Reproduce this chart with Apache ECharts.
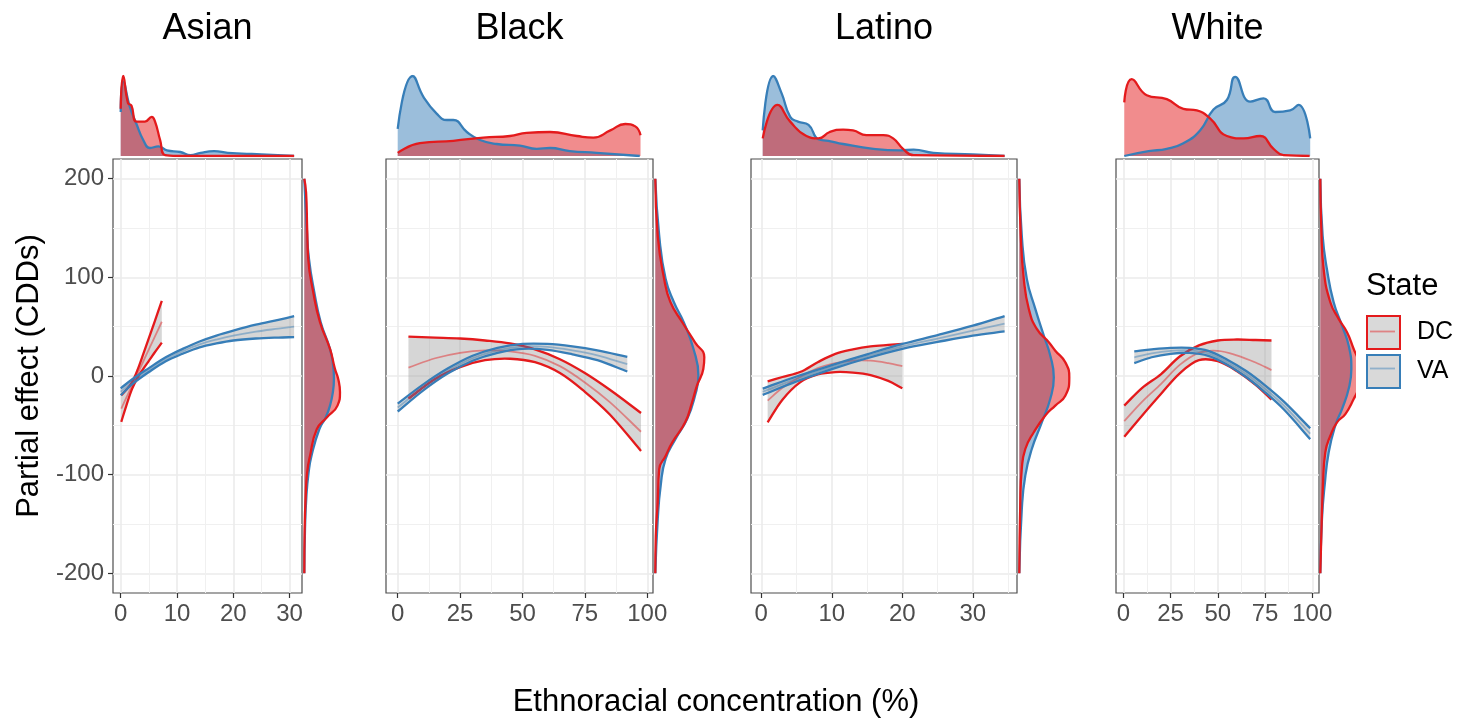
<!DOCTYPE html>
<html>
<head>
<meta charset="utf-8">
<title>Partial effect by ethnoracial concentration</title>
<script src="https://cdn.jsdelivr.net/npm/echarts@6.0.0/dist/echarts.min.js"></script>
<style>
  html, body { margin: 0; padding: 0; background: #fff; }
  #main { width: 1461px; height: 722px; }
</style>
</head>
<body>
<div id="main"></div>
<script>
// ---- data ----
var panelNames = ['Asian', 'Black', 'Latino', 'White']
var xTicks = [[0, 10, 20, 30], [0, 25, 50, 75, 100], [0, 10, 20, 30], [0, 25, 50, 75, 100]]
var xMinorTicks = [[5, 15, 25], [12.5, 37.5, 62.5, 87.5], [5, 15, 25, 35], [12.5, 37.5, 62.5, 87.5]]
var yTicks = [-200, -100, 0, 100, 200]
var yMinorTicks = [-150, -50, 50, 150]

// fitted partial effects (fit, lower and upper band)
var asianDcX = [0.1, 1, 2, 3, 4, 5, 6, 7.3]
var asianDcFit = [-33, -22, -9.8, 2.4, 14.7, 26.9, 39.1, 55]
var asianDcLo = [-46.5, -30, -13.3, -1.6, 7.2, 15.4, 23.6, 33.8]
var asianDcHi = [-19.5, -14, -6.3, 6.4, 22.2, 38.4, 54.6, 76.2]
var asianVaX = [0, 2, 5, 8, 11, 14, 17, 20, 24, 28, 30.8]
var asianVaFit = [-16, -6, 6, 17, 25, 32, 37, 41, 45, 48, 50]
var asianVaLo = [-19.5, -8.5, 4, 15, 22.5, 29, 33, 36, 38, 39, 39.4]
var asianVaHi = [-12.5, -3.5, 8, 19, 27.5, 35, 41, 46, 52, 57, 60.6]

var blackDcX = [4.3, 15, 25, 35, 45, 55, 65, 75, 85, 97.5]
var blackDcFit = [8.5, 18, 23.5, 26, 25, 20.5, 10, -6.5, -26.5, -56.5]
var blackDcLo = [-23, -3, 9, 16, 17.5, 14, 3, -16, -39, -76]
var blackDcHi = [40, 39, 38, 36, 33, 27, 17, 3, -14, -37.5]
var blackVaX = [0, 10, 20, 30, 40, 50, 60, 70, 80, 92]
var blackVaFit = [-32, -12, 5, 18, 26, 30, 29.5, 26, 21, 12]
var blackVaLo = [-36, -15, 2.5, 15.5, 23.5, 27.5, 26.5, 22, 16, 4.6]
var blackVaHi = [-28, -9, 7.5, 20.5, 28.5, 32.5, 32.5, 30, 26, 19.4]

var latinoDcX = [0.9, 3, 5.5, 8, 10.5, 13, 15.5, 18, 20]
var latinoDcFit = [-25, -12, -1, 8, 13, 15.5, 15.5, 13, 10]
var latinoDcLo = [-47, -24, -6.4, 1.5, 4, 3.5, 1, -5, -12.5]
var latinoDcHi = [-5.4, -1, 4, 14, 22.5, 27, 30, 31.5, 32.5]
var latinoVaX = [0.2, 5, 10, 15, 20, 25, 30, 34.5]
var latinoVaFit = [-16, -3, 9, 20, 30, 38, 46, 53]
var latinoVaLo = [-19.2, -5.5, 7, 18, 27.5, 34.5, 41, 45.2]
var latinoVaHi = [-12.8, -0.5, 11, 22, 32.5, 41.5, 51, 60.8]

var whiteDcX = [0.5, 10, 20, 30, 40, 50, 60, 70, 78.4]
var whiteDcFit = [-45.8, -26, -8, 11.5, 23.5, 25.5, 21, 13.7, 6]
var whiteDcLo = [-61.6, -40, -18, 3, 16, 15, 5, -9, -24]
var whiteDcHi = [-30, -12, 2, 20, 31, 36, 37, 36.5, 36]
var whiteVaX = [5.8, 15, 25, 35, 45, 55, 65, 75, 85, 98.9]
var whiteVaFit = [19, 23, 25.5, 26, 23, 14, 2, -13, -30, -58.5]
var whiteVaLo = [13, 19, 22.5, 23.5, 20.5, 11.5, -1, -16.5, -34, -64]
var whiteVaHi = [25, 27, 28.5, 28.5, 25.5, 16.5, 5, -9.5, -26, -53]

// top marginal densities of concentration (relative height)
var asianTopDcX = [0, 0.45, 1.3, 1.9, 2.8, 4.3, 5.5, 6.1, 7.0, 7.9, 10, 20, 30.8]
var asianTopDcH = [0.59, 1.0, 0.66, 0.63, 0.43, 0.43, 0.49, 0.43, 0.2, 0.01, 0, 0, 0]
var asianTopVaX = [0, 0.45, 1.6, 2.8, 4.0, 5.2, 6.7, 8.2, 10.6, 12.4, 14.2, 16.6, 19, 21.5, 25, 30.8]
var asianTopVaH = [0.55, 0.93, 0.62, 0.4, 0.2, 0.1, 0.12, 0.07, 0.05, 0.01, 0.04, 0.06, 0.04, 0.03, 0.02, 0]
var blackTopDcX = [0, 8.9, 22.3, 34.3, 45, 51.7, 61, 71.8, 78.4, 85.2, 91.2, 95.2, 97.3]
var blackTopDcH = [0.04, 0.16, 0.19, 0.23, 0.25, 0.29, 0.3, 0.25, 0.23, 0.32, 0.4, 0.37, 0.26]
var blackTopVaX = [0, 6, 10.3, 15.6, 19.7, 22.3, 27.7, 33, 39.7, 49, 55.7, 61, 69, 79.7, 97]
var blackTopVaH = [0.34, 1.0, 0.74, 0.53, 0.45, 0.45, 0.3, 0.2, 0.15, 0.13, 0.09, 0.1, 0.06, 0.04, 0]
var latinoTopDcX = [0.2, 2.3, 4.1, 6.4, 8.1, 9.7, 11.6, 13, 14.9, 17.3, 18.7, 20.1, 21.6, 34.5]
var latinoTopDcH = [0.22, 0.64, 0.43, 0.25, 0.22, 0.3, 0.33, 0.32, 0.26, 0.26, 0.22, 0.09, 0.01, 0]
var latinoTopVaX = [0.2, 1.7, 2.9, 4.1, 5.2, 6.7, 8.1, 9.5, 11.6, 15.9, 19.7, 21.6, 24.4, 30, 34.5]
var latinoTopVaH = [0.32, 1.0, 0.78, 0.49, 0.43, 0.39, 0.21, 0.19, 0.15, 0.09, 0.07, 0.08, 0.04, 0.02, 0]
var whiteTopDcX = [0.5, 4.4, 12.4, 23, 31.8, 38.9, 45.9, 54.8, 63.6, 72.4, 79.5, 84.8, 98.6]
var whiteTopDcH = [0.67, 0.96, 0.76, 0.71, 0.59, 0.57, 0.47, 0.25, 0.22, 0.25, 0.09, 0.01, 0]
var whiteTopVaX = [0.5, 13.4, 23, 31.8, 40.6, 47.7, 54.8, 59.2, 67.1, 74.2, 80.4, 88.3, 92.7, 98.9]
var whiteTopVaH = [0, 0.06, 0.09, 0.16, 0.32, 0.58, 0.7, 0.99, 0.68, 0.72, 0.55, 0.57, 0.64, 0.22]

// right marginal densities of the partial effect (relative width)
var asianSideDcV = [200, 186, 150, 119, 85, 54.5, 27.4, 7, -3, -16.6, -30, -42, -54, -81, -98, -121, -155, -200]
var asianSideDcW = [0, 0.05, 0.08, 0.11, 0.25, 0.44, 0.72, 0.86, 0.95, 1.0, 0.93, 0.63, 0.35, 0.16, 0.08, 0.04, 0.01, 0]
var asianSideVaV = [200, 150, 119, 85, 54.5, 27.4, 7, -3, -16.6, -30, -42, -54, -81, -98, -121, -155, -200]
var asianSideVaW = [0, 0.07, 0.13, 0.28, 0.46, 0.72, 0.82, 0.83, 0.8, 0.72, 0.6, 0.42, 0.2, 0.12, 0.06, 0.02, 0]
var blackSideDcV = [200, 142, 98.5, 74.8, 54.5, 34.2, 19, 7.1, -9.8, -26.7, -47, -67, -81, -94.4, -128, -162, -200]
var blackSideDcW = [0, 0.05, 0.18, 0.31, 0.55, 0.81, 1.0, 0.98, 0.85, 0.75, 0.61, 0.35, 0.21, 0.08, 0.05, 0.01, 0]
var blackSideVaV = [200, 142, 98.5, 74.8, 54.5, 27.4, 0.3, -20, -43.7, -64, -84, -111, -145, -200]
var blackSideVaW = [0, 0.08, 0.21, 0.38, 0.58, 0.78, 0.88, 0.81, 0.65, 0.41, 0.21, 0.11, 0.05, 0]
var latinoSideDcV = [200, 142, 98.5, 68, 47.7, 34.2, 25.7, 13.9, -1.4, -20, -30, -40, -57, -74, -94, -128, -200]
var latinoSideDcW = [0, 0.03, 0.09, 0.19, 0.35, 0.59, 0.72, 0.92, 1.0, 0.92, 0.72, 0.52, 0.29, 0.12, 0.05, 0.02, 0]
var latinoSideVaV = [200, 142, 98.5, 68, 41, 20.6, -1.4, -23, -47, -74, -101, -135, -200]
var latinoSideVaW = [0, 0.05, 0.15, 0.32, 0.49, 0.62, 0.69, 0.62, 0.45, 0.25, 0.12, 0.05, 0]
var whiteSideDcV = [200, 150, 108.6, 74.8, 57.9, 44.4, 27.4, 15, 2, -12, -23.4, -38.6, -47, -60.6, -77.5, -111, -162, -200]
var whiteSideDcW = [0, 0.03, 0.1, 0.3, 0.55, 0.8, 1.0, 1.15, 1.22, 1.15, 1.0, 0.75, 0.5, 0.3, 0.15, 0.08, 0.03, 0]
var whiteSideVaV = [200, 142, 108, 74.8, 51, 30.8, 7, -13, -33.5, -50, -77.5, -111, -145, -200]
var whiteSideVaW = [0, 0.07, 0.2, 0.4, 0.65, 0.85, 0.93, 0.85, 0.65, 0.45, 0.25, 0.13, 0.05, 0]

var panels = [
  { dc: [asianDcX, asianDcFit, asianDcLo, asianDcHi], va: [asianVaX, asianVaFit, asianVaLo, asianVaHi],
    topDc: [asianTopDcX, asianTopDcH], topVa: [asianTopVaX, asianTopVaH],
    sideDc: [asianSideDcW, asianSideDcV], sideVa: [asianSideVaW, asianSideVaV] },
  { dc: [blackDcX, blackDcFit, blackDcLo, blackDcHi], va: [blackVaX, blackVaFit, blackVaLo, blackVaHi],
    topDc: [blackTopDcX, blackTopDcH], topVa: [blackTopVaX, blackTopVaH],
    sideDc: [blackSideDcW, blackSideDcV], sideVa: [blackSideVaW, blackSideVaV] },
  { dc: [latinoDcX, latinoDcFit, latinoDcLo, latinoDcHi], va: [latinoVaX, latinoVaFit, latinoVaLo, latinoVaHi],
    topDc: [latinoTopDcX, latinoTopDcH], topVa: [latinoTopVaX, latinoTopVaH],
    sideDc: [latinoSideDcW, latinoSideDcV], sideVa: [latinoSideVaW, latinoSideVaV] },
  { dc: [whiteDcX, whiteDcFit, whiteDcLo, whiteDcHi], va: [whiteVaX, whiteVaFit, whiteVaLo, whiteVaHi],
    topDc: [whiteTopDcX, whiteTopDcH], topVa: [whiteTopVaX, whiteTopVaH],
    sideDc: [whiteSideDcW, whiteSideDcV], sideVa: [whiteSideVaW, whiteSideVaV] }
]

// ---- layout ----
var FONT = 'Liberation Sans, Arial, sans-serif'
var RED = '#e41a1c'
var BLUE = '#377eb8'
var SMOOTH = 0.35
var xMin = [-1.37, -4.69, -1.46, -3.87]
var xMax = [32.2, 102.3, 36.26, 103.55]
var mainLeft = [113, 386, 751, 1116]
var mainWidth = [189, 267, 266, 203]
var mainTop = 159
var mainHeight = 434
var topTop = 76
var topHeight = 80
var sideLeft = [304.3, 655.3, 1019.3, 1320.3]
var sideWidth = [35.7, 49, 50, 33.4]

function pairs(xs, ys) {
  return xs.map(function (x, i) { return [x, ys[i]] })
}

// repeat the end points so the smoothed polygon and the polylines share the same curve
function dupEnds(pts) {
  return [pts[0]].concat(pts, [pts[pts.length - 1]])
}

var grids = []
var xAxes = []
var yAxes = []
var series = []
var titles = []

// confidence ribbon, drawn once from all points of the series
function band(name, xi, yi, d) {
  var data = d[0].map(function (x, j) { return [x, d[2][j], d[3][j]] })
  return {
    name: name, type: 'custom', xAxisIndex: xi, yAxisIndex: yi, data: data, silent: true, z: 2,
    encode: { x: 0, y: [1, 2] },
    renderItem: function (params, api) {
      if (params.dataIndexInside !== 0) return null
      var up = []
      var low = []
      for (var j = 0; j < params.dataInsideLength; j++) {
        up.push(api.coord([api.value(0, j), api.value(2, j)]))
        low.push(api.coord([api.value(0, j), api.value(1, j)]))
      }
      low.reverse()
      return {
        type: 'polygon',
        shape: { points: dupEnds(up).concat(dupEnds(low)), smooth: SMOOTH },
        style: { fill: 'rgba(153,153,153,0.4)', stroke: 'none' }
      }
    }
  }
}

function curve(name, xi, yi, xs, ys, color, width) {
  return {
    name: name, type: 'custom', xAxisIndex: xi, yAxisIndex: yi, data: pairs(xs, ys), silent: true, z: 3,
    encode: { x: 0, y: 1 },
    renderItem: function (params, api) {
      if (params.dataIndexInside !== 0) return null
      var pts = []
      for (var j = 0; j < params.dataInsideLength; j++) {
        pts.push(api.coord([api.value(0, j), api.value(1, j)]))
      }
      return {
        type: 'polyline',
        shape: { points: dupEnds(pts), smooth: SMOOTH },
        style: { stroke: color, lineWidth: width, fill: 'none' }
      }
    }
  }
}

function density(name, xi, yi, data, color) {
  return { name: name, type: 'line', xAxisIndex: xi, yAxisIndex: yi, data: data,
    symbol: 'none', smooth: true, silent: true,
    lineStyle: { color: color, width: 2.3 }, areaStyle: { color: color, opacity: 0.5 }, z: 2 }
}

panels.forEach(function (p, i) {
  // main panel
  var g = grids.length
  grids.push({ left: mainLeft[i], top: mainTop, width: mainWidth[i], height: mainHeight,
    show: true, borderColor: '#4d4d4d', borderWidth: 1.2, backgroundColor: '#fff' })
  var xi = xAxes.length
  xAxes.push({
    gridIndex: g, type: 'value', min: xMin[i], max: xMax[i],
    axisLine: { show: false, onZero: false },
    axisTick: { show: true, length: 5, customValues: xTicks[i], lineStyle: { color: '#333', width: 1.2 } },
    axisLabel: { customValues: xTicks[i], fontSize: 24, color: '#4d4d4d', margin: 9, fontFamily: FONT },
    splitLine: { show: true, lineStyle: { color: '#ebebeb', width: 1.6 } }
  })
  xAxes.push({
    gridIndex: g, type: 'value', min: xMin[i], max: xMax[i], position: 'bottom',
    axisLine: { show: false, onZero: false }, axisLabel: { show: false },
    axisTick: { show: false, customValues: xMinorTicks[i] },
    splitLine: { show: true, lineStyle: { color: '#f0f0f0', width: 1 } }
  })
  var yi = yAxes.length
  yAxes.push({
    gridIndex: g, type: 'value', min: -220, max: 220,
    axisLine: { show: false, onZero: false },
    axisTick: { show: i === 0, length: 5, customValues: yTicks, lineStyle: { color: '#333', width: 1.2 } },
    axisLabel: { show: i === 0, customValues: yTicks, fontSize: 24, color: '#4d4d4d', margin: 9, fontFamily: FONT },
    splitLine: { show: true, lineStyle: { color: '#ebebeb', width: 1.6 } },
    name: i === 0 ? 'Partial effect (CDDs)' : '',
    nameLocation: 'middle', nameGap: 68, nameRotate: 90,
    nameTextStyle: { fontSize: 31, color: '#000', fontFamily: FONT }
  })
  yAxes.push({
    gridIndex: g, type: 'value', min: -220, max: 220,
    axisLine: { show: false, onZero: false }, axisLabel: { show: false },
    axisTick: { show: false, customValues: yMinorTicks },
    splitLine: { show: true, lineStyle: { color: '#f0f0f0', width: 1 } }
  })

  series.push(band('DC', xi, yi, p.dc))
  series.push(band('VA', xi, yi, p.va))
  series.push(curve('DC lower', xi, yi, p.dc[0], p.dc[2], RED, 2.3))
  series.push(curve('DC upper', xi, yi, p.dc[0], p.dc[3], RED, 2.3))
  series.push(curve('DC fit', xi, yi, p.dc[0], p.dc[1], 'rgba(228,26,28,0.45)', 1.8))
  series.push(curve('VA lower', xi, yi, p.va[0], p.va[2], BLUE, 2.3))
  series.push(curve('VA upper', xi, yi, p.va[0], p.va[3], BLUE, 2.3))
  series.push(curve('VA fit', xi, yi, p.va[0], p.va[1], 'rgba(55,126,184,0.45)', 1.8))

  // top marginal density
  var gt = grids.length
  grids.push({ left: mainLeft[i], top: topTop, width: mainWidth[i], height: topHeight })
  var xt = xAxes.length
  xAxes.push({ gridIndex: gt, type: 'value', min: xMin[i], max: xMax[i], show: false })
  var yt = yAxes.length
  yAxes.push({ gridIndex: gt, type: 'value', min: 0, max: 1, show: false })
  series.push(density('VA top', xt, yt, pairs(p.topVa[0], p.topVa[1]), BLUE))
  series.push(density('DC top', xt, yt, pairs(p.topDc[0], p.topDc[1]), RED))

  // right marginal density (time axis on y so the area fills sideways)
  var gs = grids.length
  grids.push({ left: sideLeft[i], top: mainTop, width: sideWidth[i], height: mainHeight })
  var xs = xAxes.length
  xAxes.push({ gridIndex: gs, type: 'value', min: 0, max: 1, show: false })
  var ys = yAxes.length
  yAxes.push({ gridIndex: gs, type: 'time', min: -220, max: 220, show: false })
  series.push(density('VA side', xs, ys, pairs(p.sideVa[0], p.sideVa[1]), BLUE))
  series.push(density('DC side', xs, ys, pairs(p.sideDc[0], p.sideDc[1]), RED))

  titles.push({ text: panelNames[i], left: mainLeft[i] + mainWidth[i] / 2, top: 29, padding: 0,
    textAlign: 'center', textVerticalAlign: 'middle',
    textStyle: { fontSize: 36, fontWeight: 'normal', color: '#000', fontFamily: FONT } })
})

titles.push({ text: 'Ethnoracial concentration (%)', left: 716, top: 702, padding: 0,
  textAlign: 'center', textVerticalAlign: 'middle',
  textStyle: { fontSize: 31, fontWeight: 'normal', color: '#000', fontFamily: FONT } })
titles.push({ text: 'State', left: 1366, top: 286, padding: 0,
  textAlign: 'left', textVerticalAlign: 'middle',
  textStyle: { fontSize: 31, fontWeight: 'normal', color: '#000', fontFamily: FONT } })

var mychart = echarts.init(document.getElementById('main'))
var option = {
  animation: false,
  backgroundColor: '#fff',
  title: titles,
  grid: grids,
  xAxis: xAxes,
  yAxis: yAxes,
  legend: {
    orient: 'vertical', left: 1366, top: 315, padding: 0,
    itemWidth: 33, itemHeight: 33, itemGap: 4, selectedMode: false,
    textStyle: { fontSize: 25, color: '#000', fontFamily: FONT, padding: [0, 0, 0, 12] },
    data: [
      { name: 'DC', icon: 'rect', itemStyle: { color: '#d9d9d9', borderColor: RED, borderWidth: 2 } },
      { name: 'VA', icon: 'rect', itemStyle: { color: '#d9d9d9', borderColor: BLUE, borderWidth: 2 } }
    ]
  },
  graphic: [
    { type: 'line', z: 100, shape: { x1: 1370, y1: 331.5, x2: 1395, y2: 331.5 },
      style: { stroke: 'rgba(228,26,28,0.45)', lineWidth: 1.8 } },
    { type: 'line', z: 100, shape: { x1: 1370, y1: 368.5, x2: 1395, y2: 368.5 },
      style: { stroke: 'rgba(55,126,184,0.45)', lineWidth: 1.8 } }
  ],
  series: series
}
mychart.setOption(option)
</script>
</body>
</html>
